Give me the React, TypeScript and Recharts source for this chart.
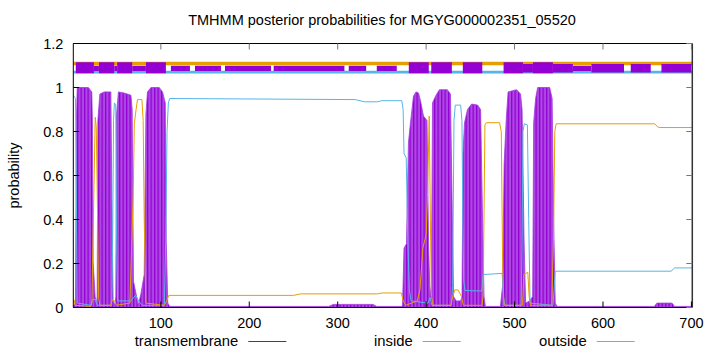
import { ComposedChart, Area, Line, XAxis, YAxis } from 'recharts'

const seqStart = 1
const seqEnd = 701
const xTicks = [100, 200, 300, 400, 500, 600, 700]
const yTicks = [0, 0.2, 0.4, 0.6, 0.8, 1, 1.2]

const title = 'TMHMM posterior probabilities for MGYG000002351_05520'
const seriesNames = ['transmembrane', 'inside', 'outside']

// posterior probabilities, [residue, probability]
const transmembrane: [number, number][] = [
  [1, 0.005], [3.5, 0.02], [4.5, 0.85], [5.5, 1.0], [18, 1.0], [21.9, 0.98], [22.6, 0.85], [23.4, 0.21], [25.7, 0.05], [27, 0.01],
  [28, 0.05], [28.8, 0.85], [31, 0.97], [35.9, 0.98], [43.5, 0.98], [44.6, 0.5], [46, 0.03], [48, 0.01],
  [49.1, 0.05], [49.8, 0.87], [52, 0.98], [58.5, 0.975], [66.1, 0.965], [67.6, 0.9], [69, 0.12], [72.1, 0.06], [74.4, 0.01], [77.4, 0.06], [81.2, 0.15],
  [83.1, 0.88], [84.9, 0.98], [88.8, 1.0], [98.2, 1.0], [101.9, 0.98], [105, 0.93], [106.1, 0.3], [107.8, 0.02], [110, 0.005],
  [290, 0.005], [295, 0.014], [340, 0.014], [344, 0.005], [372, 0.005],
  [373.3, 0.01], [375, 0.27], [377.8, 0.29], [380, 0.75], [382.3, 0.84], [385.7, 0.96], [388.5, 0.98], [391.4, 0.975], [393.6, 0.94], [397, 0.87], [401, 0.85], [402.7, 0.3], [404.4, 0.05],
  [406, 0.1], [407.2, 0.93], [410.6, 0.96], [415, 0.99], [424, 0.99], [427.5, 0.97], [429.3, 0.5], [431, 0.05], [434, 0.03], [439, 0.03],
  [440.6, 0.05], [441.7, 0.7], [443.4, 0.84], [446.8, 0.9], [451.4, 0.925], [458.2, 0.92], [461.6, 0.9], [463.8, 0.4], [465.5, 0.05], [467, 0.005], [484, 0.005],
  [486.5, 0.1], [488.2, 0.65], [490.5, 0.85], [492.7, 0.98], [502.3, 0.99], [506.8, 0.97], [508.5, 0.9], [510.8, 0.3], [512.5, 0.02], [517, 0.03],
  [520.5, 0.05], [521.6, 0.84], [523.8, 0.95], [526.1, 1.0], [539.7, 1.0], [542.5, 0.95], [544.2, 0.4], [546, 0.02], [548, 0.005],
  [658, 0.005], [661, 0.02], [678, 0.02], [681, 0.005], [701, 0.005],
]

const inside: [number, number][] = [
  [1, 0.965], [3.5, 0.95], [4.5, 0.5], [5.5, 0.02], [21, 0.01], [22.5, 0.035], [26, 0.037], [28, 0.01],
  [44.5, 0.01], [45.5, 0.3], [46.5, 0.85], [47.5, 0.93], [49, 0.92], [50, 0.3], [51, 0.03], [66, 0.03], [71.5, 0.055], [75, 0.03], [79, 0.01],
  [104, 0.01], [105.5, 0.3], [107, 0.8], [108.5, 0.93], [110, 0.95], [320, 0.945], [330, 0.935], [345, 0.935], [350, 0.94], [372.5, 0.94],
  [374, 0.9], [375, 0.7], [377.5, 0.68], [379.3, 0.3], [381, 0.08], [383, 0.03], [402, 0.02], [404.5, 0.045], [406.5, 0.01],
  [428.5, 0.01], [430, 0.1], [431.5, 0.85], [433, 0.92], [439, 0.92], [440.5, 0.85], [441.5, 0.4], [442.5, 0.12], [444, 0.077], [463, 0.075],
  [464.5, 0.15], [486, 0.155], [487.5, 0.05], [489, 0.01], [507.5, 0.01], [508.5, 0.3], [509.5, 0.8], [511, 0.835], [514.5, 0.83], [516, 0.4], [517.5, 0.02],
  [543.5, 0.01], [545, 0.1], [546, 0.165], [677, 0.165], [681, 0.18], [701, 0.18],
]

const outside: [number, number][] = [
  [1, 0.035], [2, 0.035], [3, 0.01], [21, 0.005], [22, 0.02], [24.6, 0.6], [25.8, 0.865], [27, 0.82], [28.5, 0.4], [29.7, 0.04], [31, 0.01],
  [43, 0.01], [45, 0.035], [48, 0.03], [49.5, 0.01], [65, 0.02], [68.7, 0.5], [70, 0.835], [72, 0.9], [73.6, 0.945], [78.6, 0.945], [80, 0.85], [81.2, 0.4], [83, 0.02],
  [104, 0.01], [107, 0.035], [109, 0.055], [250, 0.055], [258, 0.062], [345, 0.062], [350, 0.066], [372, 0.066], [374, 0.03], [377, 0.01],
  [390, 0.03], [393, 0.08], [396.3, 0.27], [400, 0.33], [401.5, 0.5], [403.5, 0.87], [404.8, 0.4], [406, 0.05], [408, 0.01],
  [428, 0.01], [430, 0.05], [432.5, 0.08], [436, 0.08], [440, 0.05], [442, 0.01], [463, 0.01], [464.5, 0.05], [466.5, 0.83], [468, 0.84], [483, 0.84],
  [485, 0.8], [486.5, 0.2], [488, 0.01], [509, 0.01], [510.5, 0.15], [515, 0.16], [516.5, 0.05], [518, 0.01],
  [542, 0.01], [544, 0.3], [545.5, 0.8], [547, 0.835], [658.5, 0.835], [662, 0.82], [664, 0.818], [701, 0.818],
]

// predicted topology strip above the curves, [from, to]
const bandTall: [number, number][] = [
  [3.8, 24.3], [30, 47.3], [50.6, 67.6], [83.1, 105.7], [380.4, 403], [405.8, 429.1], [441.5, 463.5], [487.6, 509.5], [520.8, 543.4],
]
const bandMid: [number, number][] = [
  [509.5, 520.8], [543.4, 566], [586.9, 623.8], [631.4, 654], [666.1, 700],
]
const bandThin: [number, number][] = [
  [24.3, 30], [47.3, 50.6], [67.6, 83.1], [111.4, 132.9], [138.6, 168], [172.5, 224.6], [227.6, 307.6], [312.5, 332.2], [344.2, 366.8], [566, 586.9],
]
const outsideBand: [number, number][] = [[1, 701]]
const insideBand: [number, number][] = [[1, 701]]

const toRows = (pts: [number, number][]) => pts.map(([x, y]) => ({ x, y }))
const toBand = (segs: [number, number][], level: number) =>
  segs.flatMap(([a, b]) => [
    { x: a, y: level },
    { x: b, y: level },
    { x: b, y: null },
  ])

const PURPLE = '#9400d3'
const BLUE = '#56b4e9'
const ORANGE = '#e69f00'
const FONT = '"Liberation Sans", Arial, sans-serif'

const W = 720
const H = 352
// plot box: left 73.3, right 692.3, top 43.5, bottom 307.5 (axes take 1px each)
const M = { top: 42.5, right: 26.7, bottom: 43.5, left: 72.3 }

const XTick = ({ x, y, payload }: any) => (
  <g>
    <line x1={x} x2={x} y1={y} y2={y - 6} stroke="#000" />
    <text x={x} y={y + 20} textAnchor="middle" fontSize={14.5} fontFamily={FONT} fill="#000">
      {payload.value}
    </text>
  </g>
)
const YTick = ({ x, y, payload }: any) => (
  <g>
    <line x1={x} x2={x + 6} y1={y} y2={y} stroke="#000" />
    <text x={x - 10} y={y + 5} textAnchor="end" fontSize={14.5} fontFamily={FONT} fill="#000">
      {payload.value}
    </text>
  </g>
)
const TopTick = ({ x, y }: any) => <line x1={x} x2={x} y1={y} y2={y + 6} stroke="#777" />
const RightTick = ({ x, y }: any) => <line x1={x} x2={x - 6} y1={y} y2={y} stroke="#777" />

const legendItems = [
  { name: seriesNames[0], color: PURPLE, end: 238.3 },
  { name: seriesNames[1], color: BLUE, end: 412.7 },
  { name: seriesNames[2], color: ORANGE, end: 586.7 },
]

export default function App() {
  return (
    <div style={{ position: 'absolute', left: 0, top: 0, width: W, height: H, background: '#fff' }}>
      <ComposedChart width={W} height={H} margin={M}>
        <defs>
          <pattern id="tmStripes" patternUnits="userSpaceOnUse" width={3.5} height={10}>
            <rect width={3.5} height={10} fill="#ad48e3" />
            <rect width={1.3} height={10} fill={PURPLE} />
          </pattern>
        </defs>
        <XAxis
          dataKey="x"
          type="number"
          domain={[seqStart, seqEnd]}
          ticks={xTicks}
          allowDataOverflow
          height={1}
          tickSize={0}
          tickMargin={0}
          tickLine={false}
          tick={<XTick />}
          axisLine={{ stroke: '#000' }}
        />
        <XAxis
          xAxisId="top"
          orientation="top"
          dataKey="x"
          type="number"
          domain={[seqStart, seqEnd]}
          ticks={xTicks}
          allowDataOverflow
          height={1}
          tickSize={0}
          tickMargin={0}
          tickLine={false}
          tick={<TopTick />}
          axisLine={{ stroke: '#000' }}
        />
        <YAxis
          type="number"
          domain={[0, 1.2]}
          ticks={yTicks}
          allowDataOverflow
          width={1}
          tickSize={0}
          tickMargin={0}
          tickLine={false}
          tick={<YTick />}
          axisLine={{ stroke: '#000' }}
        />
        <YAxis
          yAxisId="right"
          orientation="right"
          type="number"
          domain={[0, 1.2]}
          ticks={yTicks}
          allowDataOverflow
          width={1}
          tickSize={0}
          tickMargin={0}
          tickLine={false}
          tick={<RightTick />}
          axisLine={{ stroke: '#333', strokeWidth: 1.5 }}
        />
        <Area
          data={toRows(transmembrane)}
          dataKey="y"
          type="linear"
          stroke="#a33ade"
          strokeWidth={0.8}
          fill="url(#tmStripes)"
          fillOpacity={1}
          isAnimationActive={false}
          dot={false}
          activeDot={false}
        />
        <Line data={toRows(inside)} dataKey="y" type="linear" stroke={BLUE} strokeWidth={1} dot={false} activeDot={false} isAnimationActive={false} />
        <Line data={toRows(outside)} dataKey="y" type="linear" stroke={ORANGE} strokeWidth={1} dot={false} activeDot={false} isAnimationActive={false} />
        <Line data={toBand(outsideBand, 1.109)} dataKey="y" type="linear" stroke={ORANGE} strokeWidth={3.7} dot={false} activeDot={false} isAnimationActive={false} />
        <Line data={toBand(insideBand, 1.07)} dataKey="y" type="linear" stroke={BLUE} strokeWidth={2.7} dot={false} activeDot={false} isAnimationActive={false} />
        <Line data={toBand(bandThin, 1.087)} dataKey="y" type="linear" stroke={PURPLE} strokeWidth={5.3} dot={false} activeDot={false} isAnimationActive={false} />
        <Line data={toBand(bandMid, 1.088)} dataKey="y" type="linear" stroke={PURPLE} strokeWidth={8.5} dot={false} activeDot={false} isAnimationActive={false} />
        <Line data={toBand(bandTall, 1.0895)} dataKey="y" type="linear" stroke={PURPLE} strokeWidth={11} dot={false} activeDot={false} isAnimationActive={false} />
      </ComposedChart>
      <svg width={W} height={H} style={{ position: 'absolute', left: 0, top: 0, pointerEvents: 'none' }}>
        <text x={382} y={25} textAnchor="middle" fontSize={14.5} fontFamily={FONT}>
          {title}
        </text>
        <text transform="translate(19,175.5) rotate(-90)" textAnchor="middle" fontSize={14.5} fontFamily={FONT}>
          probability
        </text>
        {legendItems.map((it) => (
          <g key={it.name}>
            <text x={it.end} y={346} textAnchor="end" fontSize={14.8} fontFamily={FONT}>
              {it.name}
            </text>
            <line x1={it.end + 10} x2={it.end + 48} y1={341.5} y2={341.5} stroke={it.color} strokeWidth={1} />
          </g>
        ))}
      </svg>
    </div>
  )
}
